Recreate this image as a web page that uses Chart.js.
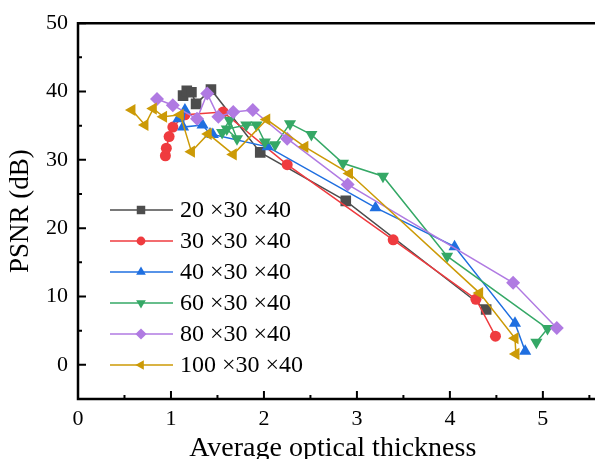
<!DOCTYPE html>
<html>
<head>
<meta charset="utf-8">
<script src="https://cdn.jsdelivr.net/npm/chart.js@4.4.1/dist/chart.umd.min.js"></script>
<style>
  html, body { margin: 0; padding: 0; background: #fff; }
  #wrap { width: 595px; height: 459px; position: relative; }
</style>
</head>
<body>
<div id="wrap"><canvas id="psnr"></canvas></div>
<script>
// PSNR vs average optical thickness, one series per volume size
const seriesLabels = ['20 \u00d730 \u00d740', '30 \u00d730 \u00d740', '40 \u00d730 \u00d740',
                      '60 \u00d730 \u00d740', '80 \u00d730 \u00d740', '100 \u00d730 \u00d740'];

const thick20 = [1.13, 1.17, 1.22, 1.27, 1.43, 1.96, 2.88, 4.39];
const psnr20  = [39.4, 40.1, 39.9, 38.2, 40.3, 31.1, 24.0, 8.1];

const thick30 = [0.94, 0.95, 0.98, 1.02, 1.15, 1.56, 2.25, 3.39, 4.28, 4.49];
const psnr30  = [30.6, 31.7, 33.4, 34.8, 36.6, 37.0, 29.3, 18.3, 9.6, 4.2];

const thick40 = [1.08, 1.15, 1.13, 1.34, 1.42, 1.45, 2.04, 3.20, 4.05, 4.70, 4.81];
const psnr40  = [36.0, 37.3, 34.8, 35.1, 33.8, 33.7, 31.9, 23.0, 17.3, 6.1, 2.0];

const thick60 = [1.55, 1.63, 1.71, 1.60, 1.81, 1.92, 2.01, 2.12, 2.28, 2.51, 2.85, 3.28, 3.97, 5.05, 4.93];
const psnr60  = [34.0, 35.8, 33.1, 34.5, 35.1, 35.1, 32.6, 32.2, 35.3, 33.7, 29.5, 27.6, 15.9, 5.3, 3.3];

const thick80 = [0.85, 1.02, 1.28, 1.39, 1.51, 1.67, 1.88, 2.25, 2.90, 4.68, 5.15];
const psnr80  = [38.9, 38.0, 36.0, 39.7, 36.3, 37.0, 37.3, 33.1, 26.4, 12.0, 5.4];

const thick100 = [0.58, 0.72, 0.81, 0.92, 1.10, 1.22, 1.40, 1.67, 2.03, 2.44, 2.92, 4.32, 4.70, 4.71];
const psnr100  = [37.3, 35.1, 37.5, 36.3, 36.6, 31.2, 33.8, 30.8, 35.9, 31.9, 28.0, 10.5, 3.9, 1.6];

const xTicks = [0, 1, 2, 3, 4, 5];
const yTicks = [0, 10, 20, 30, 40, 50];

const FONT = "'Liberation Serif', 'Times New Roman', serif";

function pairs(xs, ys) {
    return xs.map((x, i) => ({ x: x, y: ys[i] }));
}

// marker look per series: [colour, pointStyle, rotation, radius]
const looks = [
    ['#4d4d4d', 'rect', 0, 7.5],
    ['#ef3b3f', 'circle', 0, 5.5],
    ['#1f6fe0', 'triangle', 0, 7],
    ['#35a866', 'triangle', 180, 7],
    ['#b07ae2', 'rectRot', 0, 7],
    ['#cc9a06', 'triangle', 270, 7]
];
const allData = [
    pairs(thick20, psnr20), pairs(thick30, psnr30), pairs(thick40, psnr40),
    pairs(thick60, psnr60), pairs(thick80, psnr80), pairs(thick100, psnr100)
];

const datasets = allData.map((d, i) => ({
    label: seriesLabels[i],
    data: d,
    borderColor: looks[i][0],
    backgroundColor: looks[i][0],
    borderWidth: 1.5,
    pointStyle: looks[i][1],
    rotation: looks[i][2],
    pointRadius: looks[i][3],
    pointBorderWidth: 0,
    tension: 0,
    order: 6 - i
}));

// axis frame with inward ticks; top and bottom run to the canvas edge
const framePlugin = {
    id: 'frame',
    afterDatasetsDraw(chart) {
        const { ctx, chartArea: a, scales: { x, y } } = chart;
        const edge = chart.width + 2;
        ctx.save();
        ctx.strokeStyle = '#000';
        ctx.lineWidth = 2.5;
        ctx.beginPath();
        ctx.moveTo(edge, a.top);
        ctx.lineTo(a.left, a.top);
        ctx.lineTo(a.left, a.bottom);
        ctx.lineTo(edge, a.bottom);
        ctx.stroke();

        ctx.lineWidth = 2;
        ctx.beginPath();
        for (let v = -5; v <= 50; v += 5) {
            const py = y.getPixelForValue(v);
            const len = v % 10 === 0 ? 8 : 4;
            ctx.moveTo(a.left, py);
            ctx.lineTo(a.left + len, py);
        }
        for (let v = 0.5; v <= 5.5; v += 0.5) {
            const px = x.getPixelForValue(v);
            const len = Number.isInteger(v) ? 8 : 4;
            ctx.moveTo(px, a.bottom);
            ctx.lineTo(px, a.bottom - len);
        }
        ctx.stroke();
        ctx.restore();
    }
};

// legend drawn inside the plot, line sample with marker
const legendPlugin = {
    id: 'innerLegend',
    afterDraw(chart) {
        const { ctx } = chart;
        ctx.save();
        chart.data.datasets.forEach((ds, i) => {
            const rowY = 210 + i * 31;
            ctx.strokeStyle = ds.borderColor;
            ctx.lineWidth = 1.5;
            ctx.beginPath();
            ctx.moveTo(110, rowY);
            ctx.lineTo(173, rowY);
            ctx.stroke();
            ctx.fillStyle = ds.backgroundColor;
            Chart.helpers.drawPoint(ctx, {
                pointStyle: ds.pointStyle,
                rotation: ds.rotation,
                radius: ds.pointRadius * 0.8,
                borderWidth: 0
            }, 141, rowY);
            ctx.fillStyle = '#000';
            ctx.font = '24px ' + FONT;
            ctx.textBaseline = 'middle';
            ctx.textAlign = 'left';
            ctx.fillText(ds.label, 180, rowY + 1);
        });
        ctx.restore();
    }
};

new Chart(document.getElementById('psnr'), {
    type: 'line',
    data: { datasets: datasets },
    plugins: [framePlugin, legendPlugin],
    options: {
        responsive: true,
        maintainAspectRatio: false,
        animation: false,
        devicePixelRatio: 1,
        layout: { padding: { top: 21, right: 0, left: 0, bottom: 0 } },
        plugins: {
            legend: { display: false },
            tooltip: { enabled: false }
        },
        scales: {
            x: {
                type: 'linear',
                min: 0,
                max: 5.48,
                grid: { display: false, drawTicks: false },
                border: { display: false },
                afterBuildTicks: s => { s.ticks = xTicks.map(v => ({ value: v })); },
                afterFit: s => { s.height = 60; },
                ticks: {
                    color: '#000',
                    padding: 7,
                    font: { family: FONT, size: 22 }
                },
                title: {
                    display: true,
                    text: 'Average optical thickness',
                    color: '#000',
                    font: { family: FONT, size: 28 },
                    padding: { top: 0, bottom: -6 }
                }
            },
            y: {
                type: 'linear',
                min: -5,
                max: 50,
                grid: { display: false, drawTicks: false },
                border: { display: false },
                afterBuildTicks: s => { s.ticks = yTicks.map(v => ({ value: v })); },
                afterFit: s => { s.width = 78; },
                ticks: {
                    color: '#000',
                    padding: 10,
                    font: { family: FONT, size: 22 }
                },
                title: {
                    display: true,
                    text: 'PSNR (dB)',
                    color: '#000',
                    font: { family: FONT, size: 27 },
                    padding: { top: 5, bottom: 0 }
                }
            }
        }
    }
});
</script>
</body>
</html>
